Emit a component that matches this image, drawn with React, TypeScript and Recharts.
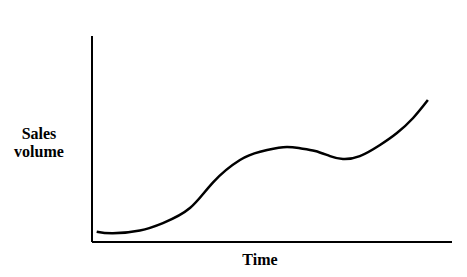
import { LineChart, Line, XAxis, YAxis, Label } from 'recharts'

// time on 0-100 scale, sales volume on 0-100 scale
const time = [1.3, 5.8, 13.3, 19.7, 27.2, 33.7, 41.1, 46.7, 53.1, 57.8, 62.0, 66.1, 69.7, 74.4, 80, 84.7, 89.2, 93.3]
const sales = [5.0, 4.2, 5.6, 9.2, 16.5, 29.1, 39.8, 43.8, 46.0, 45.5, 44.2, 41.7, 40.3, 41.7, 47.1, 52.9, 60.2, 68.9]

const xTitle = 'Time'
const yTitle = ['Sales', 'volume']

const data = time.map((t, i) => ({ time: t, sales: sales[i] }))

const font = '"Liberation Serif", serif'

export default function App() {
  return (
    <div style={{ position: 'absolute', left: 0, top: 0, background: '#fff' }}>
      <LineChart
        width={467}
        height={277}
        data={data}
        margin={{ top: 36, right: 15, bottom: 34, left: 91 }}
      >
        <XAxis
          dataKey="time"
          type="number"
          domain={[0, 100]}
          height={1}
          tick={false}
          tickLine={false}
          axisLine={{ stroke: '#000', strokeWidth: 2 }}
        >
          <Label
            content={() => (
              <text x={260} y={265} textAnchor="middle" fontFamily={font} fontWeight="bold" fontSize={16} fill="#000">
                {xTitle}
              </text>
            )}
          />
        </XAxis>
        <YAxis
          type="number"
          domain={[0, 100]}
          width={1}
          tick={false}
          tickLine={false}
          axisLine={{ stroke: '#000', strokeWidth: 2 }}
        >
          <Label
            content={() => (
              <text textAnchor="middle" fontFamily={font} fontWeight="bold" fontSize={16} fill="#000">
                <tspan x={39} y={139}>{yTitle[0]}</tspan>
                <tspan x={39} y={157}>{yTitle[1]}</tspan>
              </text>
            )}
          />
        </YAxis>
        <Line
          type="natural"
          dataKey="sales"
          stroke="#000"
          strokeWidth={2.5}
          dot={false}
          isAnimationActive={false}
        />
      </LineChart>
    </div>
  )
}
